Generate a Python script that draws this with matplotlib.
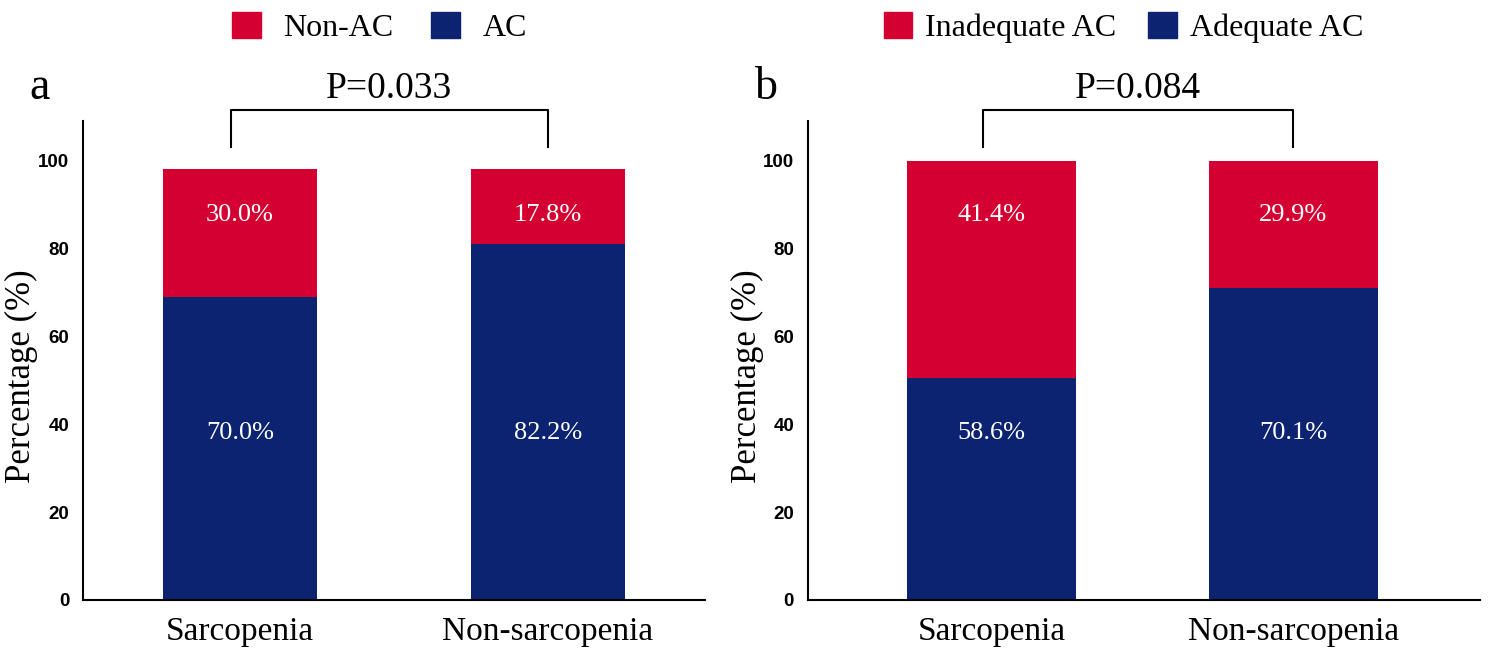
import matplotlib
matplotlib.use('Agg')
import matplotlib.pyplot as plt
from matplotlib.patches import Patch

# bar heights as drawn in the figure
groups = ['Sarcopenia', 'Non-sarcopenia']
a_ac = [69, 81]
a_non_ac = [29, 17]
b_adequate = [50.5, 71]
b_inadequate = [49.5, 29]

# printed labels
a_ac_labels = ['70.0%', '82.2%']
a_non_ac_labels = ['30.0%', '17.8%']
b_adequate_labels = ['58.6%', '70.1%']
b_inadequate_labels = ['41.4%', '29.9%']

RED = '#D50032'
NAVY = '#0B2370'
SERIF = 'Liberation Serif'

fig = plt.figure(figsize=(14.88, 6.52), dpi=100)
ax_a = fig.add_axes([0.0558, 0.0798, 0.418, 0.7346])
ax_b = fig.add_axes([0.543, 0.0798, 0.4516, 0.7346])


def draw_panel(ax, bottom, top, bottom_labels, top_labels, width, xlim, pval,
               letter, letter_x, ylabel_x):
    x = range(len(groups))
    ax.bar(x, bottom, width=width, color=NAVY)
    ax.bar(x, top, width=width, bottom=bottom, color=RED)
    for i in x:
        ax.text(i, 87.5, top_labels[i], color='white', ha='center', va='center',
                fontsize=19, family=SERIF)
        ax.text(i, 38, bottom_labels[i], color='white', ha='center', va='center',
                fontsize=19, family=SERIF)
    ax.set_xlim(*xlim)
    ax.set_ylim(0, 109)
    ax.set_yticks([0, 20, 40, 60, 80, 100])
    ax.set_xticks(list(x))
    ax.set_xticklabels(groups, fontsize=24, family=SERIF)
    for lab in ax.get_yticklabels():
        lab.set_fontfamily('Liberation Sans')
        lab.set_fontweight('bold')
        lab.set_fontsize(13.5)
    ax.tick_params(axis='both', length=0)
    ax.tick_params(axis='x', pad=12)
    ax.tick_params(axis='y', pad=10)
    ax.spines['top'].set_visible(False)
    ax.spines['right'].set_visible(False)
    ax.spines['left'].set_linewidth(1.5)
    ax.spines['bottom'].set_linewidth(1.5)
    ax.set_ylabel('Percentage (%)', fontsize=25, family=SERIF)
    ax.yaxis.set_label_coords(ylabel_x, 0.468)
    # significance bracket
    ax.plot([-0.03, -0.03, 1.0, 1.0], [103, 111.5, 111.5, 103], color='black',
            lw=1.5, clip_on=False)
    ax.text(0.485, 112.5, pval, ha='center', va='bottom', fontsize=27, family=SERIF)
    ax.text(letter_x, 1.025, letter, transform=ax.transAxes, fontsize=33,
            family=SERIF, ha='center', va='bottom')


draw_panel(ax_a, a_ac, a_non_ac, a_ac_labels, a_non_ac_labels, 0.5,
           (-0.51, 1.51), 'P=0.033', 'a', -0.07, -0.072)
draw_panel(ax_b, b_adequate, b_inadequate, b_adequate_labels, b_inadequate_labels,
           0.56, (-0.61, 1.62), 'P=0.084', 'b', -0.062, -0.065)

fig.legend(handles=[Patch(color=RED, label='Non-AC'), Patch(color=NAVY, label='AC')],
           loc='center', bbox_to_anchor=(0.255, 0.958), ncol=2, frameon=False,
           prop={'family': SERIF, 'size': 23}, handlelength=0.9, handleheight=0.9,
           columnspacing=1.2, handletextpad=0.7)
fig.legend(handles=[Patch(color=RED, label='Inadequate AC'),
                    Patch(color=NAVY, label='Adequate AC')],
           loc='center', bbox_to_anchor=(0.755, 0.958), ncol=2, frameon=False,
           prop={'family': SERIF, 'size': 23}, handlelength=0.9, handleheight=0.9,
           columnspacing=1.0, handletextpad=0.4)

fig.savefig('out.png', dpi=100)
plt.close(fig)
